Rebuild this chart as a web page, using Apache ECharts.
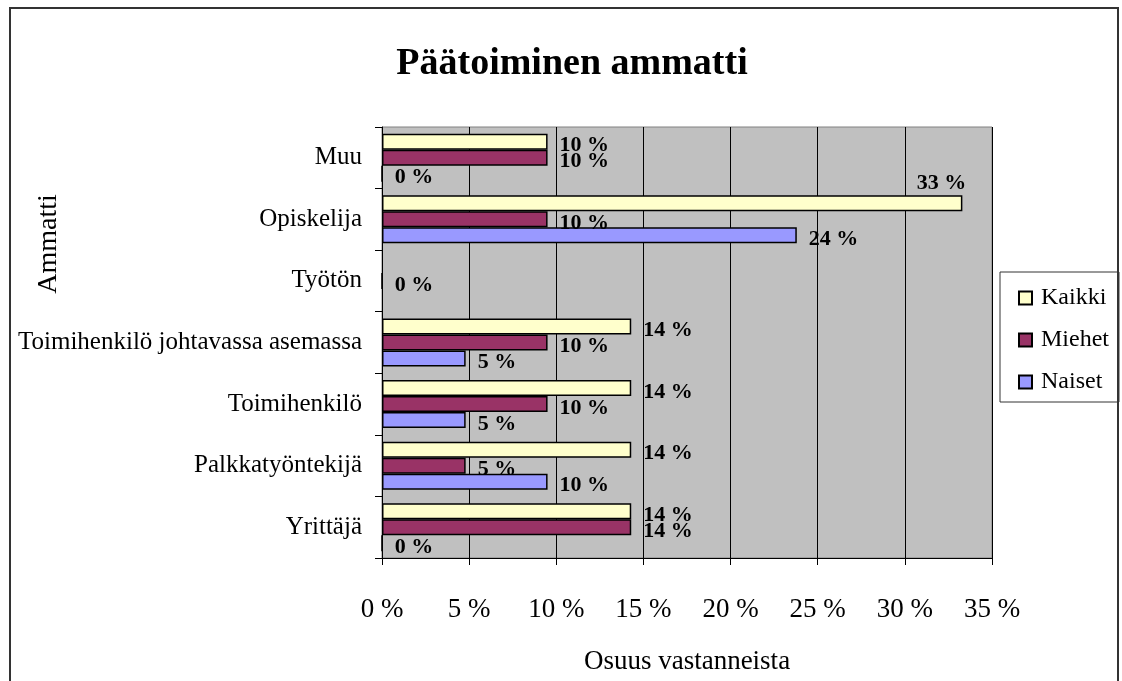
<!DOCTYPE html>
<html>
<head>
<meta charset="utf-8">
<script src="https://cdn.jsdelivr.net/npm/echarts@6/dist/echarts.min.js"></script>
<style>html,body{margin:0;padding:0;background:#fff;}#c{width:1122px;height:681px;}</style>
</head>
<body>
<div id="c"></div>
<script>
// Categories from bottom to top (ECharts y category axis draws first at bottom)
const categories = ['Yrittäjä', 'Palkkatyöntekijä', 'Toimihenkilö', 'Toimihenkilö johtavassa asemassa', 'Työtön', 'Opiskelija', 'Muu'];
const seriesNames = ['Kaikki', 'Miehet', 'Naiset'];
const kaikki = [14.3, 14.3, 14.3, 14.3, null, 33.3, 9.5];
const miehet = [14.3, 4.8, 9.5, 9.5, 0, 9.5, 9.5];
const naiset = [0, 9.5, 4.8, 4.8, null, 23.8, 0];
const xTicks = [0, 5, 10, 15, 20, 25, 30, 35];

const FONT = '"Liberation Serif", "Times New Roman", serif';
const colors = { Kaikki: '#FFFFCC', Miehet: '#993366', Naiset: '#9999FF' };
const values = { Kaikki: kaikki, Miehet: miehet, Naiset: naiset };

function buildData(arr) {
  return arr.map(v => {
    if (v !== null && v > 30) {
      return { value: v, label: { position: ['100%', 0], align: 'right', verticalAlign: 'bottom', offset: [4, -1] } };
    }
    return v;
  });
}

const series = seriesNames.map(name => ({
  name: name,
  type: 'bar',
  data: buildData(values[name]),
  barWidth: 16,
  barGap: '0%',
  itemStyle: { color: colors[name], borderColor: '#000', borderWidth: 1.5 },
  label: {
    show: true,
    position: 'right',
    distance: 12,
    offset: [0, 4],
    fontFamily: FONT,
    fontSize: 22,
    fontWeight: 'bold',
    color: '#000',
    formatter: p => Math.round(p.value) + ' %'
  }
}));

const chart = echarts.init(document.getElementById('c'), null, { renderer: 'canvas' });
chart.setOption({
  animation: false,
  backgroundColor: '#fff',
  title: {
    text: 'Päätoiminen ammatti',
    left: 567, textAlign: 'center', top: 40,
    textStyle: { fontFamily: FONT, fontSize: 38, fontWeight: 'bold', color: '#000' }
  },
  legend: {
    orient: 'vertical',
    data: seriesNames,
    left: 1000, top: 272,
    padding: [14, 10, 8, 18],
    itemGap: 18,
    itemWidth: 13, itemHeight: 13,
    icon: 'rect',
    borderColor: '#333', borderWidth: 1,
    backgroundColor: '#fff',
    textStyle: { fontFamily: FONT, fontSize: 24, color: '#000', padding: [0, 0, 0, 4] }
  },
  grid: {
    left: 382, right: 130, top: 127, bottom: 123,
    show: true, backgroundColor: '#C0C0C0', borderColor: '#808080', borderWidth: 1
  },
  xAxis: {
    type: 'value', min: xTicks[0], max: xTicks[xTicks.length - 1], interval: 5,
    axisLine: { show: true, lineStyle: { color: '#000', width: 1 } },
    axisTick: { show: true, length: 7, lineStyle: { color: '#000' } },
    splitLine: { show: true, lineStyle: { color: '#000', width: 1 } },
    axisLabel: { margin: 38, fontFamily: FONT, fontSize: 27, color: '#000', formatter: '{value} %' }
  },
  yAxis: {
    type: 'category', data: categories,
    axisLine: { show: true, lineStyle: { color: '#000', width: 1 } },
    axisTick: { show: true, length: 7, lineStyle: { color: '#000' } },
    axisLabel: { margin: 20, fontFamily: FONT, fontSize: 25, color: '#000' }
  },
  graphic: [
    { type: 'rect', shape: { x: 10, y: 8, width: 1108, height: 700 }, style: { fill: 'none', stroke: '#333', lineWidth: 2 }, z: 100, silent: true },
    { type: 'text', x: 49, y: 244, rotation: Math.PI / 2, style: { text: 'Ammatti', font: '28px ' + FONT, fill: '#000', textAlign: 'center', textVerticalAlign: 'middle' } },
    { type: 'text', x: 687, y: 662, style: { text: 'Osuus vastanneista', font: '27px ' + FONT, fill: '#000', textAlign: 'center', textVerticalAlign: 'middle' } }
  ],
  series: series
});
</script>
</body>
</html>
